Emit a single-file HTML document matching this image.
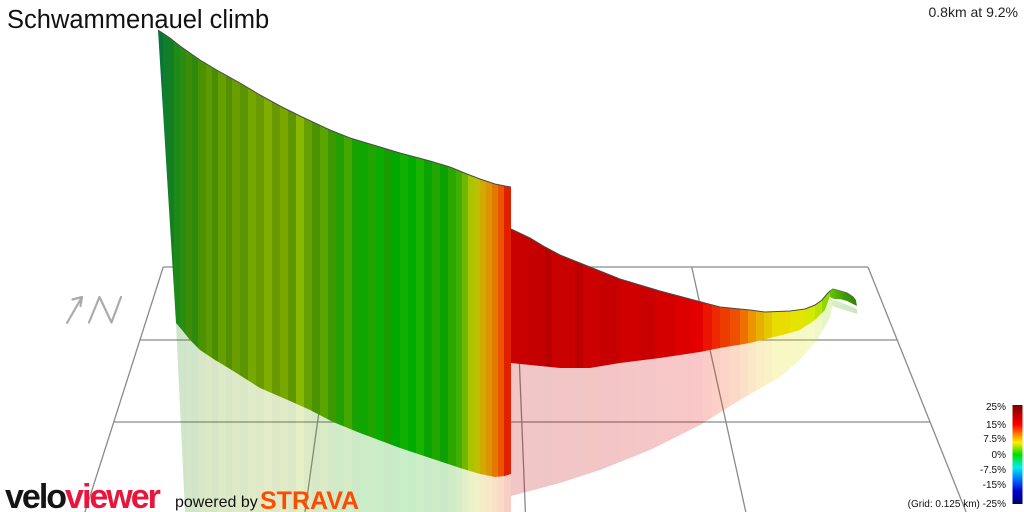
<!DOCTYPE html>
<html><head><meta charset="utf-8"><style>
html,body{margin:0;padding:0;background:#fff;}
svg{display:block;}
text{font-family:"Liberation Sans",Arial,sans-serif;}
</style></head><body>
<svg width="1024" height="512" viewBox="0 0 1024 512" xmlns="http://www.w3.org/2000/svg">
<defs>
<linearGradient id="gw" gradientUnits="userSpaceOnUse" x1="158" y1="0" x2="511" y2="0">
<stop offset="0" stop-color="#0b7336"/><stop offset="0.0142" stop-color="#0b7336"/>
<stop offset="0.0142" stop-color="#0e7f2e"/><stop offset="0.0283" stop-color="#0e7f2e"/>
<stop offset="0.0283" stop-color="#137f22"/><stop offset="0.0453" stop-color="#137f22"/>
<stop offset="0.0453" stop-color="#1e8a18"/><stop offset="0.0623" stop-color="#1e8a18"/>
<stop offset="0.0623" stop-color="#2a8c10"/><stop offset="0.0793" stop-color="#2a8c10"/>
<stop offset="0.0793" stop-color="#3c8d08"/><stop offset="0.0963" stop-color="#3c8d08"/>
<stop offset="0.0963" stop-color="#2e8a0c"/><stop offset="0.1133" stop-color="#2e8a0c"/>
<stop offset="0.1133" stop-color="#4a9200"/><stop offset="0.136" stop-color="#4a9200"/>
<stop offset="0.136" stop-color="#5c9a00"/><stop offset="0.153" stop-color="#5c9a00"/>
<stop offset="0.153" stop-color="#4a8e00"/><stop offset="0.17" stop-color="#4a8e00"/>
<stop offset="0.17" stop-color="#64a000"/><stop offset="0.1926" stop-color="#64a000"/>
<stop offset="0.1926" stop-color="#538f00"/><stop offset="0.2096" stop-color="#538f00"/>
<stop offset="0.2096" stop-color="#6a9e00"/><stop offset="0.2323" stop-color="#6a9e00"/>
<stop offset="0.2323" stop-color="#5a9400"/><stop offset="0.255" stop-color="#5a9400"/>
<stop offset="0.255" stop-color="#74a800"/><stop offset="0.2776" stop-color="#74a800"/>
<stop offset="0.2776" stop-color="#6a9a00"/><stop offset="0.3003" stop-color="#6a9a00"/>
<stop offset="0.3003" stop-color="#80ae00"/><stop offset="0.3229" stop-color="#80ae00"/>
<stop offset="0.3229" stop-color="#6a9800"/><stop offset="0.3456" stop-color="#6a9800"/>
<stop offset="0.3456" stop-color="#78a800"/><stop offset="0.3683" stop-color="#78a800"/>
<stop offset="0.3683" stop-color="#5e9600"/><stop offset="0.3909" stop-color="#5e9600"/>
<stop offset="0.3909" stop-color="#88b800"/><stop offset="0.4136" stop-color="#88b800"/>
<stop offset="0.4136" stop-color="#66a000"/><stop offset="0.4363" stop-color="#66a000"/>
<stop offset="0.4363" stop-color="#4a9400"/><stop offset="0.4589" stop-color="#4a9400"/>
<stop offset="0.4589" stop-color="#5aa400"/><stop offset="0.4816" stop-color="#5aa400"/>
<stop offset="0.4816" stop-color="#3c9a00"/><stop offset="0.5042" stop-color="#3c9a00"/>
<stop offset="0.5042" stop-color="#22a000"/><stop offset="0.5269" stop-color="#22a000"/>
<stop offset="0.5269" stop-color="#44a800"/><stop offset="0.5496" stop-color="#44a800"/>
<stop offset="0.5496" stop-color="#18a200"/><stop offset="0.5722" stop-color="#18a200"/>
<stop offset="0.5722" stop-color="#0ea600"/><stop offset="0.5949" stop-color="#0ea600"/>
<stop offset="0.5949" stop-color="#22a400"/><stop offset="0.6176" stop-color="#22a400"/>
<stop offset="0.6176" stop-color="#0aac00"/><stop offset="0.6402" stop-color="#0aac00"/>
<stop offset="0.6402" stop-color="#189c00"/><stop offset="0.6629" stop-color="#189c00"/>
<stop offset="0.6629" stop-color="#00a800"/><stop offset="0.6856" stop-color="#00a800"/>
<stop offset="0.6856" stop-color="#10b000"/><stop offset="0.7082" stop-color="#10b000"/>
<stop offset="0.7082" stop-color="#00ac00"/><stop offset="0.7309" stop-color="#00ac00"/>
<stop offset="0.7309" stop-color="#1ab400"/><stop offset="0.7535" stop-color="#1ab400"/>
<stop offset="0.7535" stop-color="#0aa400"/><stop offset="0.7762" stop-color="#0aa400"/>
<stop offset="0.7762" stop-color="#22a600"/><stop offset="0.7989" stop-color="#22a600"/>
<stop offset="0.7989" stop-color="#0ca000"/><stop offset="0.8215" stop-color="#0ca000"/>
<stop offset="0.8215" stop-color="#2aa800"/><stop offset="0.8442" stop-color="#2aa800"/>
<stop offset="0.8442" stop-color="#44ae00"/><stop offset="0.8612" stop-color="#44ae00"/>
<stop offset="0.8612" stop-color="#70b800"/><stop offset="0.8782" stop-color="#70b800"/>
<stop offset="0.8782" stop-color="#a8c600"/><stop offset="0.8952" stop-color="#a8c600"/>
<stop offset="0.8952" stop-color="#bcc000"/><stop offset="0.9122" stop-color="#bcc000"/>
<stop offset="0.9122" stop-color="#d0aa00"/><stop offset="0.9292" stop-color="#d0aa00"/>
<stop offset="0.9292" stop-color="#dc9400"/><stop offset="0.9462" stop-color="#dc9400"/>
<stop offset="0.9462" stop-color="#e47800"/><stop offset="0.9632" stop-color="#e47800"/>
<stop offset="0.9632" stop-color="#ec5400"/><stop offset="0.9802" stop-color="#ec5400"/>
<stop offset="0.9802" stop-color="#e02000"/><stop offset="1" stop-color="#e02000"/>
</linearGradient>
<linearGradient id="rw" gradientUnits="userSpaceOnUse" x1="511" y1="0" x2="831" y2="0">
<stop offset="0" stop-color="#c80000"/><stop offset="0.059" stop-color="#c80000"/>
<stop offset="0.059" stop-color="#c40000"/><stop offset="0.106" stop-color="#c40000"/>
<stop offset="0.106" stop-color="#b80000"/><stop offset="0.128" stop-color="#b80000"/>
<stop offset="0.128" stop-color="#c80000"/><stop offset="0.2" stop-color="#c80000"/>
<stop offset="0.2" stop-color="#bd0000"/><stop offset="0.225" stop-color="#bd0000"/>
<stop offset="0.225" stop-color="#cc0000"/><stop offset="0.278" stop-color="#cc0000"/>
<stop offset="0.278" stop-color="#c60000"/><stop offset="0.341" stop-color="#c60000"/>
<stop offset="0.341" stop-color="#d00000"/><stop offset="0.403" stop-color="#d00000"/>
<stop offset="0.403" stop-color="#c80000"/><stop offset="0.45" stop-color="#c80000"/>
<stop offset="0.45" stop-color="#d40000"/><stop offset="0.513" stop-color="#d40000"/>
<stop offset="0.513" stop-color="#dc0000"/><stop offset="0.559" stop-color="#dc0000"/>
<stop offset="0.559" stop-color="#e40000"/><stop offset="0.6" stop-color="#e40000"/>
<stop offset="0.6" stop-color="#ea1400"/><stop offset="0.628" stop-color="#ea1400"/>
<stop offset="0.628" stop-color="#ee2800"/><stop offset="0.653" stop-color="#ee2800"/>
<stop offset="0.653" stop-color="#ec3c00"/><stop offset="0.684" stop-color="#ec3c00"/>
<stop offset="0.684" stop-color="#ee5000"/><stop offset="0.716" stop-color="#ee5000"/>
<stop offset="0.716" stop-color="#ee7000"/><stop offset="0.741" stop-color="#ee7000"/>
<stop offset="0.741" stop-color="#ee9400"/><stop offset="0.766" stop-color="#ee9400"/>
<stop offset="0.766" stop-color="#e8b000"/><stop offset="0.791" stop-color="#e8b000"/>
<stop offset="0.791" stop-color="#e6c800"/><stop offset="0.816" stop-color="#e6c800"/>
<stop offset="0.816" stop-color="#eadc00"/><stop offset="0.872" stop-color="#eadc00"/>
<stop offset="0.872" stop-color="#e4e400"/><stop offset="0.919" stop-color="#e4e400"/>
<stop offset="0.919" stop-color="#d4ea00"/><stop offset="0.95" stop-color="#d4ea00"/>
<stop offset="0.95" stop-color="#bce400"/><stop offset="0.972" stop-color="#bce400"/>
<stop offset="0.972" stop-color="#90d800"/><stop offset="1" stop-color="#90d800"/>
</linearGradient>
<linearGradient id="tw" gradientUnits="userSpaceOnUse" x1="830" y1="0" x2="858" y2="0">
<stop offset="0" stop-color="#66c400"/><stop offset="0.5" stop-color="#3e9e00"/><stop offset="1" stop-color="#2a8200"/>
</linearGradient>
<linearGradient id="lg" x1="0" y1="0" x2="0" y2="1">
<stop offset="0" stop-color="#7a0000"/>
<stop offset="0.2" stop-color="#ff0000"/>
<stop offset="0.3" stop-color="#ff8800"/>
<stop offset="0.38" stop-color="#ffee00"/>
<stop offset="0.5" stop-color="#00dd00"/>
<stop offset="0.63" stop-color="#00eeee"/>
<stop offset="0.76" stop-color="#0066ff"/>
<stop offset="0.87" stop-color="#0000cc"/>
<stop offset="1" stop-color="#000066"/>
</linearGradient>
</defs>

<!-- grid -->
<g stroke="#8a8a8a" stroke-width="1.3" fill="none">
<line x1="163.25" y1="267" x2="868" y2="267"/>
<line x1="139.9" y1="340" x2="897.2" y2="340"/>
<line x1="113.7" y1="422" x2="930.1" y2="422"/>
<line x1="163.25" y1="267" x2="85" y2="512"/>
<line x1="339.25" y1="267" x2="305" y2="512"/>
<line x1="515.5" y1="267" x2="525.4" y2="512"/>
<line x1="691.75" y1="267" x2="745.8" y2="512"/>
<line x1="868" y1="267" x2="966.1" y2="512"/>
</g>

<!-- reflections -->
<g opacity="0.22">
<path fill="url(#gw)" d="M176,323 L182,330 L190,340 L200,350 L215,360 L230,369 L260,388 L290,401 L310,410 L333,422 L360,433 L400,448 L430,458 L460,468 L480,474 L495,477 L505,476 L511,474 L511,512 L185,512 Z"/>
<path fill="url(#rw)" d="M511,363 L530,365 L560,368 L590,368 L620,363 L660,358 L700,352 L720,348 L750,343 L790,333 L800,330 L815,320 L825,310 L830,296 L833,303 L830,318 L817,340 L800,360 L780,377 L740,400 L700,425 L650,450 L600,470 L560,483 L511,496 Z"/>
<path fill="url(#tw)" d="M830,299 L840,302 L850,306 L857,309 L857,314 L848,311 L838,308 L832,306 Z"/>
</g>

<!-- front wall -->
<path fill="url(#gw)" d="M158,30 L170,38 L180,46 L190,53 L200,60 L220,72 L240,83 L260,95 L280,106 L300,116 L330,130 L350,138 L380,147 L400,153 L430,161 L450,167 L467,174 L480,179 L495,184 L505,186 L511,187 L511,474 L505,476 L495,477 L480,474 L460,468 L430,458 L400,448 L360,433 L333,422 L310,410 L290,401 L260,388 L230,369 L215,360 L200,350 L190,340 L182,330 L176,323 Z"/>
<path fill="none" stroke="#4a4a4a" stroke-width="1" d="M158,30 L170,38 L180,46 L190,53 L200,60 L220,72 L240,83 L260,95 L280,106 L300,116 L330,130 L350,138 L380,147 L400,153 L430,161 L450,167 L467,174 L480,179 L495,184 L505,186 L511,187"/>

<!-- red wall -->
<path fill="url(#rw)" d="M511,229 L530,238 L545,247 L560,255 L580,263 L600,271 L620,279 L640,285 L660,291 L690,299 L720,307 L750,310 L765,312 L790,311 L805,309 L815,305 L822,300 L827,294 L830,291 L830,296 L825,310 L815,320 L800,330 L790,333 L750,343 L720,348 L700,352 L660,358 L620,363 L590,368 L560,368 L530,365 L511,363 Z"/>
<path fill="none" stroke="#4a4a4a" stroke-width="1" d="M511,229 L530,238 L545,247 L560,255 L580,263 L600,271 L620,279 L640,285 L660,291 L690,299 L720,307 L750,310 L765,312 L790,311 L805,309 L815,305 L822,300 L827,294 L830,291 L833,289 L840,291 L847,293 L853,297 L856,301"/>
<path fill="url(#tw)" d="M830,291 L833,289 L840,291 L847,293 L853,297 L856,301 L857,306 L853,304 L847,301 L840,299 L834,299 L830,297 Z"/>

<!-- north arrow -->
<g stroke="#ababab" stroke-width="2.2" fill="none" stroke-linecap="round" stroke-linejoin="round">
<path d="M67,323 L82,297"/>
<path d="M72.5,299.5 L82,297 L80.5,306"/>
<path d="M89,322.5 L99.5,297 L111.5,322.5 L121,297"/>
</g>

<!-- titles -->
<text x="7" y="28" font-size="25.5" fill="#111">Schwammenauel climb</text>
<text x="1018" y="17" font-size="14" fill="#222" text-anchor="end">0.8km at 9.2%</text>

<!-- legend -->
<rect x="1012.5" y="405" width="10" height="99" fill="url(#lg)"/>
<g font-size="10" fill="#111" text-anchor="end">
<text x="1006" y="410">25%</text>
<text x="1006" y="428">15%</text>
<text x="1006" y="442">7.5%</text>
<text x="1006" y="458">0%</text>
<text x="1006" y="473">-7.5%</text>
<text x="1006" y="488">-15%</text>
<text x="1006" y="507">(Grid: 0.125 km) -25%</text>
</g>

<!-- logos -->
<text x="5" y="508" font-size="34" font-weight="bold" letter-spacing="-2"><tspan fill="#151515">velo</tspan><tspan fill="#e9153b">viewer</tspan></text>
<text x="175" y="507" font-size="16" fill="#111">powered by</text>
<text x="260" y="509" font-size="25" font-weight="bold" fill="#fc4c02">STRAVA</text>
</svg>
</body></html>
